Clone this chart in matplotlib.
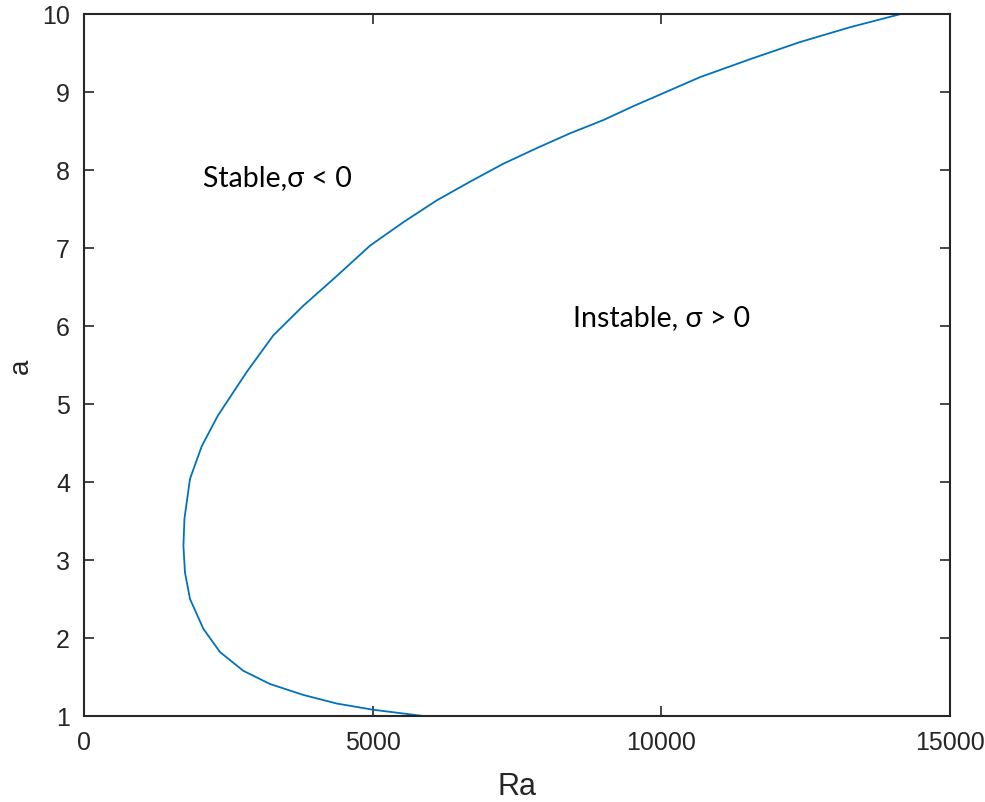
import matplotlib.pyplot as plt

# neutral stability curve (bottom to top)
a_vals = [1.00, 1.08, 1.16, 1.27, 1.41, 1.58, 1.82, 2.12, 2.50, 2.84, 3.18, 3.53,
          4.04, 4.46, 4.85, 5.41, 5.88, 6.26, 6.64, 7.03, 7.33, 7.61, 7.85, 8.08,
          8.28, 8.47, 8.64, 8.82, 9.00, 9.19, 9.42, 9.64, 9.83, 10.0]
ra_vals = [5877, 5011, 4377, 3799, 3222, 2759, 2355, 2066, 1836, 1749, 1722, 1740,
           1836, 2040, 2318, 2818, 3279, 3799, 4377, 4954, 5530, 6109, 6686, 7262,
           7841, 8418, 8995, 9520, 10080, 10669, 11535, 12401, 13267, 14150]

x_ticks = [0, 5000, 10000, 15000]
y_ticks = [1, 2, 3, 4, 5, 6, 7, 8, 9, 10]

axis_col = '#262626'
plt.rcParams['font.family'] = ['Liberation Sans', 'DejaVu Sans']

fig = plt.figure(figsize=(9.85, 8.03), dpi=100)
ax = fig.add_axes([84 / 985, 1 - 717 / 803, 866 / 985, 702 / 803])

ax.plot(ra_vals, a_vals, color='#0072BD', lw=1.3)

ax.set_xlim(0, 15000)
ax.set_ylim(1, 10)
ax.set_xticks(x_ticks)
ax.set_yticks(y_ticks)
ax.tick_params(direction='in', length=7, width=1.2, colors=axis_col,
               labelsize=18, top=True, right=True, pad=10)
for sp in ax.spines.values():
    sp.set_color(axis_col)
    sp.set_linewidth(1.5)

ax.set_xlabel('Ra', fontsize=22, color=axis_col, labelpad=12)
ax.set_ylabel('a', fontsize=20, color=axis_col, labelpad=6)

lbl_font = ['Lato', 'DejaVu Sans']
ax.text(2060, 7.91, 'Stable,\u03c3 < 0', fontsize=20.5, family=lbl_font,
        va='center', ha='left', color='black')
ax.text(8470, 6.12, 'Instable, \u03c3 > 0', fontsize=20.5, family=lbl_font,
        va='center', ha='left', color='black')

fig.savefig('out.png', dpi=100)
